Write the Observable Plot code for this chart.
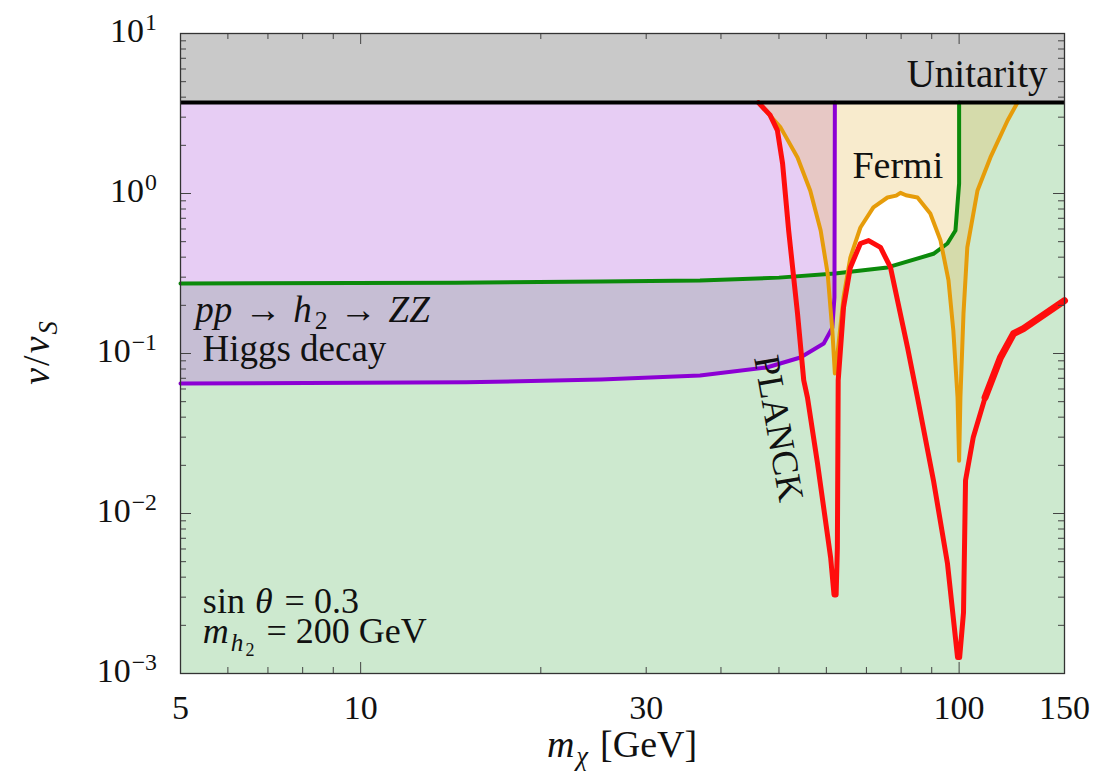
<!DOCTYPE html>
<html><head><meta charset="utf-8">
<script src="https://cdn.jsdelivr.net/npm/d3@7"></script>
<script src="https://cdn.jsdelivr.net/npm/@observablehq/plot@0.6"></script>
<style>html,body{margin:0;padding:0;background:#fff;} svg{display:block;} svg text{font-family: "Liberation Serif", "Times New Roman", Times, "DejaVu Serif", "Noto Serif", serif;}</style>
</head><body><div id="chart"></div>
<script>
const FONT = "Liberation Serif, Times New Roman, Times, DejaVu Serif, Noto Serif, serif";

// ---- data ----
const UNITARITY = 3.7;
const xDomain = [5, 150];
const yDomain = [1e-3, 10];
const xTickLabels = [5, 10, 30, 100, 150];
const xMajorTicks = [10, 100];
const xMinorTicks = [6, 7, 8, 9, 20, 30, 40, 50, 60, 70, 80, 90];
const yDecades = [-3, -2, -1, 0, 1];
const yMinorMantissas = [2, 3, 4, 5, 6, 7, 8, 9];

// Higgs decay (purple)
const higgsX = [5, 15, 25.2, 36.9, 47.7, 54.3, 59.4, 61.4, 61.9, 62.0];
const higgsY = [0.065, 0.066, 0.0688, 0.0729, 0.0818, 0.0944, 0.1155, 0.145, 0.224, 3.7];

// pp -> h2 -> ZZ (green)
const zzX = [5, 14.4, 25.2, 36.9, 50, 62, 75.9, 90.6, 95.6, 98.6, 100, 100];
const zzY = [0.274, 0.277, 0.282, 0.286, 0.298, 0.316, 0.345, 0.42, 0.487, 0.587, 1.155, 3.7];

// Fermi (orange)
const fermiX = [46.2, 50.3, 53.7, 56.4, 58.7, 60.3, 61.4, 62.0, 62.8, 64.1, 65.8, 68.4, 71.9, 75.9, 78.5, 79.8, 81.5, 85.2, 89.5, 93.1, 96.0, 97.8, 99.4, 100.0, 100.5, 101.7, 103.2, 107.3, 112.8, 120.5, 125.2];
const fermiY = [3.7, 2.59, 1.68, 1.04, 0.587, 0.316, 0.139, 0.075, 0.109, 0.224, 0.398, 0.613, 0.818, 0.944, 0.97, 1.01, 0.975, 0.944, 0.75, 0.508, 0.286, 0.139, 0.053, 0.0214, 0.053, 0.178, 0.46, 1.04, 1.68, 2.86, 3.7];

// PLANCK (red)
const planckX = [46.2, 48.3, 49.7, 50.7, 51.9, 53.7, 55.0, 55.8, 58.0, 61.0, 61.8, 62.3, 62.6, 62.8, 64.1, 65.8, 68.4, 70.6, 73.9, 76.8, 82.0, 85.2, 90.6, 95.6, 99.4, 100.2, 101.7, 102.5, 105.6, 110.5, 117.2, 123.3, 128.1, 150];
const planckY = [3.7, 3.1, 2.48, 1.54, 0.587, 0.178, 0.068, 0.053, 0.0205, 0.0053, 0.0031, 0.0031, 0.0061, 0.068, 0.194, 0.345, 0.487, 0.508, 0.46, 0.345, 0.109, 0.053, 0.0161, 0.0049, 0.00126, 0.00126, 0.0024, 0.0161, 0.030, 0.053, 0.094, 0.133, 0.143, 0.214];

const zip = (xs, ys) => xs.map((x, i) => ({x, y: ys[i]}));
const higgs = zip(higgsX, higgsY);
const zz = zip(zzX, zzY);
const fermi = zip(fermiX, fermiY);
const planck = zip(planckX, planckY);

// ---- layout ----
const W = 1106, H = 779;
const M = {top: 33, right: 42, bottom: 106, left: 180};
const innerW = W - M.left - M.right;
const innerH = H - M.top - M.bottom;
const MINOR = 6, MAJOR = 11;
const TICK = "#444";

const yMajor = yDecades.map(k => 10 ** k);
const yMinor = yDecades.slice(0, -1).flatMap(k => yMinorMantissas.map(m => m * 10 ** k));

const chart = Plot.plot({
  width: W, height: H,
  marginTop: M.top, marginRight: M.right, marginBottom: M.bottom, marginLeft: M.left,
  x: {type: "log", domain: xDomain, axis: null},
  y: {type: "log", domain: yDomain, axis: null},
  style: {fontFamily: FONT, background: "white", color: "#111"},
  marks: [
    Plot.frame({fill: "#cde9cf"}),
    Plot.areaY(higgs, {x: "x", y1: "y", y2: UNITARITY, fill: "#c6bed4"}),
    Plot.areaY(zz.filter(d => d.x <= 62), {x: "x", y1: "y", y2: UNITARITY, fill: "#e7cdf4"}),
    Plot.areaY(zz.filter(d => d.x >= 62), {x: "x", y1: "y", y2: UNITARITY, fill: "#ffffff"}),
    Plot.areaY(fermi, {x: "x", y1: "y", y2: UNITARITY, fill: "#e8bc58", fillOpacity: 0.3}),
    Plot.rect([{x1: xDomain[0], x2: xDomain[1], y1: UNITARITY, y2: yDomain[1]}],
      {x1: "x1", x2: "x2", y1: "y1", y2: "y2", fill: "#c9c9c9"}),
    Plot.line(zz, {x: "x", y: "y", stroke: "#0b8a0b", strokeWidth: 4}),
    Plot.line(higgs, {x: "x", y: "y", stroke: "#8c00d4", strokeWidth: 4}),
    Plot.line(fermi, {x: "x", y: "y", stroke: "#e69c0a", strokeWidth: 4}),
    Plot.line(planck, {x: "x", y: "y", stroke: "#ff0d0d", strokeWidth: 5}),
    Plot.line(planck.filter(d => d.x >= 110), {x: "x", y: "y", stroke: "#ff0d0d", strokeWidth: 7}),
    Plot.ruleY([UNITARITY], {stroke: "#000", strokeWidth: 4}),
    // inward ticks
    Plot.tickX(xMinorTicks, {x: d => d, insetTop: innerH - MINOR, stroke: TICK}),
    Plot.tickX(xMinorTicks, {x: d => d, insetBottom: innerH - MINOR, stroke: TICK}),
    Plot.tickX(xMajorTicks, {x: d => d, insetTop: innerH - MAJOR, stroke: TICK}),
    Plot.tickX(xMajorTicks, {x: d => d, insetBottom: innerH - MAJOR, stroke: TICK}),
    Plot.tickY(yMinor, {y: d => d, insetRight: innerW - MINOR, stroke: TICK}),
    Plot.tickY(yMinor, {y: d => d, insetLeft: innerW - MINOR, stroke: TICK}),
    Plot.tickY(yMajor, {y: d => d, insetRight: innerW - MAJOR, stroke: TICK}),
    Plot.tickY(yMajor, {y: d => d, insetLeft: innerW - MAJOR, stroke: TICK}),
    Plot.frame({stroke: "#333", strokeWidth: 1.3}),
    // x tick labels
    Plot.text(xTickLabels, {x: d => d, frameAnchor: "bottom", dy: 45, lineAnchor: "bottom",
      text: d => String(d), fontSize: 34, fill: "#111"}),
    // plain annotations
    Plot.text(["Unitarity"], {x: 140.5, y: 4.6, textAnchor: "end", lineAnchor: "bottom", fontSize: 39, fill: "#111"}),
    Plot.text(["Fermi"], {x: 79.0, y: 1.241, textAnchor: "middle", lineAnchor: "bottom", fontSize: 38, fill: "#111"}),
    Plot.text(["Higgs decay"], {x: 5.44, y: 0.0904, textAnchor: "start", lineAnchor: "bottom", fontSize: 37, fill: "#111"}),
    Plot.text(["PLANCK"], {x: 49.9, y: 0.034, rotate: 80, textAnchor: "middle", lineAnchor: "middle", fontSize: 37, fill: "#111"})
  ]
});

document.getElementById("chart").appendChild(chart);

// ---- rich text (italic, sub/superscripts) placed via the plot's scales ----
const sx = chart.scale("x"), sy = chart.scale("y");
const svg = d3.select(chart);
function rich(px, py, parts, {size = 38, anchor = "start", rotate = 0} = {}) {
  const t = svg.append("text")
    .attr("transform", `translate(${px},${py}) rotate(${rotate})`)
    .attr("text-anchor", anchor).attr("font-size", size)
    .attr("font-family", FONT).attr("fill", "#111");
  let cur = 0;
  for (const p of parts) {
    const shift = (p.shift || 0) * size;
    const ts = t.append("tspan").text(p.t).attr("dy", shift - cur);
    if (p.dx) ts.attr("dx", p.dx);
    cur = shift;
    if (p.i) ts.attr("font-style", "italic");
    if (p.s) ts.attr("font-size", size * p.s);
  }
  return t;
}

// y tick labels 10^k
for (const k of yDecades) {
  const exp = k < 0 ? "\u2212" + (-k) : String(k);
  rich(157, sy.apply(10 ** k) + 9, [{t: "10"}, {t: exp, shift: -0.36, s: 0.7, dx: 1}], {size: 34, anchor: "end"});
}

// annotations
rich(sx.apply(5.30), sy.apply(0.1562), [
  {t: "pp", i: 1}, {t: "\u2192", dx: 12}, {t: "h", i: 1, dx: 12}, {t: "2", shift: 0.2, s: 0.7, dx: 3},
  {t: "\u2192", shift: 0, dx: 12}, {t: "ZZ", i: 1, dx: 12}
], {size: 37});
rich(sx.apply(5.46), sy.apply(0.00236), [
  {t: "sin"}, {t: "\u03b8", i: 1, dx: 10}, {t: "= 0.3", dx: 12}
], {size: 36});
rich(sx.apply(5.46), sy.apply(0.00154), [
  {t: "m", i: 1}, {t: "h", i: 1, shift: 0.22, s: 0.7, dx: 2}, {t: "2", shift: 0.36, s: 0.5, dx: 2},
  {t: "= 200 GeV", shift: 0, dx: 12}
], {size: 36});

// axis titles
rich((sx.apply(xDomain[0]) + sx.apply(xDomain[1])) / 2, 757, [
  {t: "m", i: 1}, {t: "\u03c7", i: 1, shift: 0.2, s: 0.7, dx: 2}, {t: "[GeV]", shift: 0, dx: 12}
], {size: 38, anchor: "middle"});
rich(49, (sy.apply(yDomain[0]) + sy.apply(yDomain[1])) / 2, [
  {t: "v", i: 1}, {t: "/", dx: 2}, {t: "v", i: 1, dx: 2}, {t: "S", i: 1, shift: 0.2, s: 0.7, dx: 2}
], {size: 38, anchor: "middle", rotate: -90});
</script>
</body></html>
